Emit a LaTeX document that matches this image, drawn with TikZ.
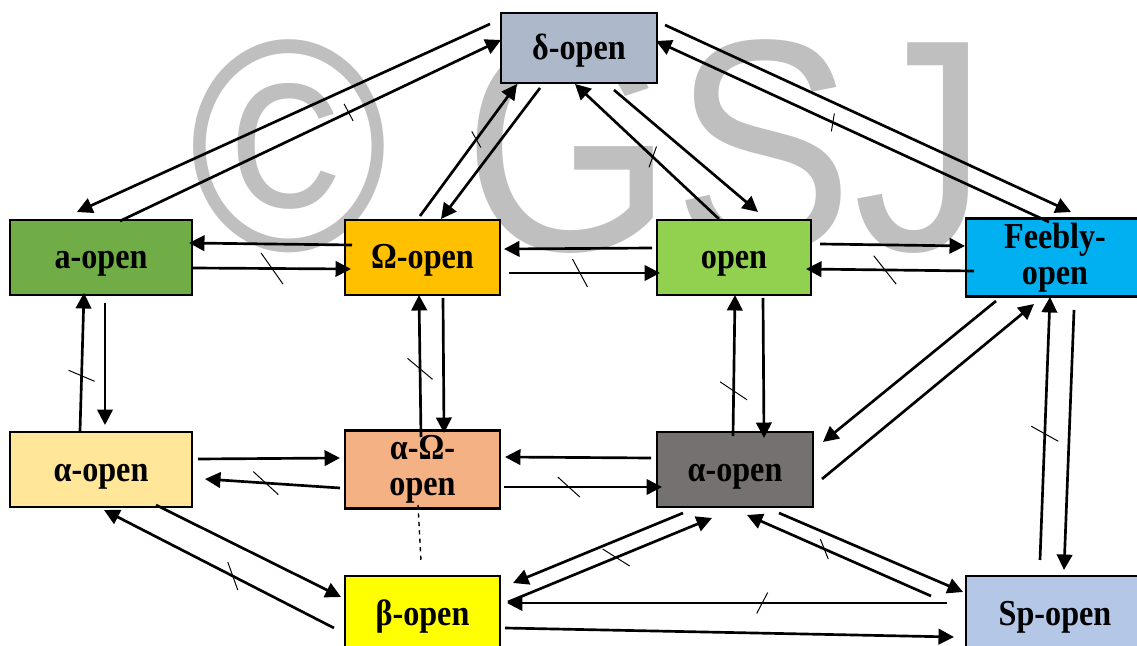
\documentclass[tikz,border=0pt]{standalone}
\usepackage{fontspec}
\setmainfont{Liberation Serif}[FakeStretch=0.88]
\newfontfamily\wmfont{Liberation Sans}[FakeStretch=0.894]
\usepackage{tikz}
\usetikzlibrary{arrows.meta, calc, positioning}
\definecolor{cdelta}{HTML}{ADB9CA}
\definecolor{cagreen}{HTML}{70AD47}
\definecolor{comega}{HTML}{FFC000}
\definecolor{copen}{HTML}{92D050}
\definecolor{cfeebly}{HTML}{00B0F0}
\definecolor{calpha}{HTML}{FFE699}
\definecolor{calom}{HTML}{F4B183}
\definecolor{calgray}{HTML}{767171}
\definecolor{cbeta}{HTML}{FFFF00}
\definecolor{csp}{HTML}{B4C7E7}
\tikzset{
  box/.style={draw, line width=2pt, minimum height=1.875cm, align=center,
    font=\bfseries\fontsize{26}{25.6}\selectfont},
  oneline/.style={text height=0.8cm, text depth=0.225cm},
  arr/.style={line width=1.9pt, -{Triangle[length=11pt, width=11pt]}},
  tk/.style={line width=0.7pt}
}

\begin{document}
\begin{tikzpicture}
        \useasboundingbox (0,0) rectangle (28.425,16.125);
        \node[anchor=base west, inner sep=0, text=black!25, font=\wmfont\fontsize{214.8}{215}\selectfont] (wm) at (4.74,9.85) {© GSJ};

        \node[box, oneline, fill=cdelta, minimum width=3.9cm, minimum height=1.75cm] (dop) at (14.475,14.925) {δ-open};
        \node[box, oneline, fill=cagreen, minimum width=4.55cm] (aop) at (2.525,9.6875) {a-open};
        \node[box, oneline, fill=comega, minimum width=3.875cm] (omop) at (10.5625,9.6875) {Ω-open};
        \node[box, oneline, fill=copen, minimum width=3.85cm] (op) at (18.35,9.6875) {open};
        \node[box, fill=cfeebly, minimum width=4.45cm] (fop) at (26.375,9.6875) {Feebly-\\open};
        \node[box, oneline, fill=calpha, minimum width=4.55cm] (aL) at (2.525,4.3875) {α-open};
        \node[box, fill=calom, minimum width=3.875cm] (aom) at (10.5625,4.3875) {α-Ω-\\open};
        \node[box, oneline, fill=calgray, minimum width=3.9cm] (aR) at (18.375,4.3875) {α-open};
        \node[box, oneline, fill=cbeta, minimum width=3.875cm] (bop) at (10.5625,0.7875) {β-open};
        \node[box, oneline, fill=csp, minimum width=4.45cm] (spop) at (26.375,0.7875) {Sp-open};

        \draw[arr] ($(dop)+(-2.225,0.6)$) -- ($(aop)+(-0.6,1.1375)$);
        \draw[arr] ($(aop)+(0.475,0.9125)$) -- ($(dop)+(-1.95,0.2)$) coordinate[pos=.6] (k1);
        \draw[tk] (k1) +(-0.1125,0.2125) -- +(0.1125,-0.2125);
        \draw[arr] ($(omop)+(-0.0625,1.0375)$) -- ($(dop)+(-1.55,-0.9)$) coordinate[pos=.58] (k2);
        \draw[tk] (k2) +(-0.1125,0.2) -- +(0.1125,-0.2);
        \draw[arr] ($(dop)+(-0.975,-1)$) -- ($(omop)+(0.4625,0.9625)$);
        \draw[arr] ($(dop)+(0.875,-1.05)$) -- ($(op)+(0.6,1.1375)$);
        \draw[arr] ($(op)+(-0.375,0.9625)$) -- ($(dop)+(-0.1,-0.9)$) coordinate[pos=.46] (k3);
        \draw[tk] (k3) +(-0.094,-0.26) -- +(0.094,0.26);
        \draw[arr] ($(dop)+(2.15,0.575)$) -- ($(fop)+(0.4,1.1375)$);
        \draw[arr] ($(fop)+(-0.15,0.8875)$) -- ($(dop)+(1.925,0.175)$) coordinate[pos=.55] (k4);
        \draw[tk] (k4) +(-0.0375,-0.225) -- +(0.0375,0.225);

        \draw[arr] ($(omop)+(-1.7625,0.3125)$) -- ($(aop)+(2.2,0.3625)$);
        \draw[arr] ($(aop)+(2.3,-0.2625)$) -- ($(omop)+(-1.7875,-0.2875)$) coordinate[pos=.5] (k5);
        \draw[tk] (k5) +(-0.275,0.39) -- +(0.275,-0.39);
        \draw[arr] ($(op)+(-2.05,0.2375)$) -- ($(omop)+(2.0375,0.2125)$);
        \draw[arr] ($(omop)+(2.1625,-0.3875)$) -- ($(op)+(-1.85,-0.3875)$) coordinate[pos=.47] (k6);
        \draw[tk] (k6) +(-0.1875,0.35) -- +(0.1875,-0.35);
        \draw[arr] ($(op)+(2.15,0.3375)$) -- ($(fop)+(-2.25,0.2875)$);
        \draw[arr] ($(fop)+(-2.025,-0.3375)$) -- ($(op)+(1.8,-0.2875)$) coordinate[pos=.53] (k7);
        \draw[tk] (k7) +(-0.28,0.355) -- +(0.28,-0.355);

        \draw[arr] ($(aL)+(-0.525,0.9625)$) -- ($(aop)+(-0.425,-0.8875)$) coordinate[pos=.4] (k8);
        \draw[tk] (k8) +(-0.325,0.1375) -- +(0.325,-0.1375);
        \draw[arr] ($(aop)+(0.1,-1.1375)$) -- ($(aL)+(0.1,1.1125)$);
        \draw[arr] ($(aom)+(-0.0375,0.8125)$) -- ($(omop)+(-0.0875,-0.9375)$) coordinate[pos=.48] (k9);
        \draw[tk] (k9) +(-0.3125,0.2625) -- +(0.3125,-0.2625);
        \draw[arr] ($(omop)+(0.5125,-1.0125)$) -- ($(aom)+(0.5375,0.9125)$);
        \draw[arr] ($(aR)+(-0.05,0.8375)$) -- ($(op)+(0.025,-0.9375)$) coordinate[pos=.32] (k10);
        \draw[tk] (k10) +(-0.3375,0.225) -- +(0.3375,-0.225);
        \draw[arr] ($(op)+(0.725,-1.0125)$) -- ($(aR)+(0.725,0.7875)$);
        \draw[arr] ($(fop)+(-1.475,-1.0875)$) -- ($(aR)+(2.2,0.6875)$);
        \draw[arr] ($(aR)+(2.175,-0.2375)$) -- ($(fop)+(-0.525,-1.1625)$);
        \draw[arr] ($(spop)+(-0.375,1.3375)$) -- ($(fop)+(-0.125,-0.9875)$) coordinate[pos=.48] (k11);
        \draw[tk] (k11) +(-0.3375,0.1875) -- +(0.3375,-0.1875);
        \draw[arr] ($(fop)+(0.475,-1.3125)$) -- ($(spop)+(0.225,1.0875)$);

        \draw[arr] ($(aL)+(2.425,0.2625)$) -- ($(aom)+(-2.0625,0.2875)$);
        \draw[arr] ($(aom)+(-2.0625,-0.4625)$) -- ($(aL)+(2.6,-0.2375)$) coordinate[pos=.55] (k12);
        \draw[tk] (k12) +(-0.3125,0.2875) -- +(0.3125,-0.2875);
        \draw[arr] ($(aR)+(-2.1,0.2875)$) -- ($(aom)+(2.0625,0.3125)$);
        \draw[arr] ($(aom)+(2.0375,-0.4375)$) -- ($(aR)+(-1.825,-0.4375)$) coordinate[pos=.41] (k13);
        \draw[tk] (k13) +(-0.275,0.25) -- +(0.275,-0.25);

        \draw[arr] ($(aL)+(1.375,-0.8875)$) -- ($(bop)+(-2.0375,0.4125)$);
        \draw[arr] ($(bop)+(-2.2125,-0.3625)$) -- ($(aL)+(0.075,-1.0125)$) coordinate[pos=.44] (k14);
        \draw[tk] (k14) +(-0.125,0.35) -- +(0.125,-0.35);
        \draw[dashed, line width=1pt] ($(aom)+(-0.1125,-0.8875)$) -- ($(bop)+(-0.0375,1.3125)$);
        \draw[arr] ($(aR)+(-1.3,-1.0875)$) -- ($(bop)+(2.2625,0.7625)$);
        \draw[arr] ($(bop)+(2.1375,0.2875)$) -- ($(aR)+(-0.575,-1.2125)$) coordinate[pos=.53] (k15);
        \draw[tk] (k15) +(-0.3375,0.2125) -- +(0.3375,-0.2125);
        \draw[arr] ($(spop)+(-2.7,0.2625)$) -- ($(bop)+(2.1125,0.2625)$) coordinate[pos=.42] (k16);
        \draw[tk] (k16) +(-0.1375,-0.2625) -- +(0.1375,0.2625);
        \draw[arr] ($(bop)+(2.0625,-0.3625)$) -- ($(spop)+(-2.525,-0.5875)$);
        \draw[arr] ($(aR)+(1.1,-1.0875)$) -- ($(spop)+(-2.3,0.5375)$);
        \draw[arr] ($(spop)+(-3.1,0.4375)$) -- ($(aR)+(0.3,-1.1375)$) coordinate[pos=.58] (k17);
        \draw[tk] (k17) +(-0.1,0.25) -- +(0.1,-0.25);
    \end{tikzpicture}
\end{document}
